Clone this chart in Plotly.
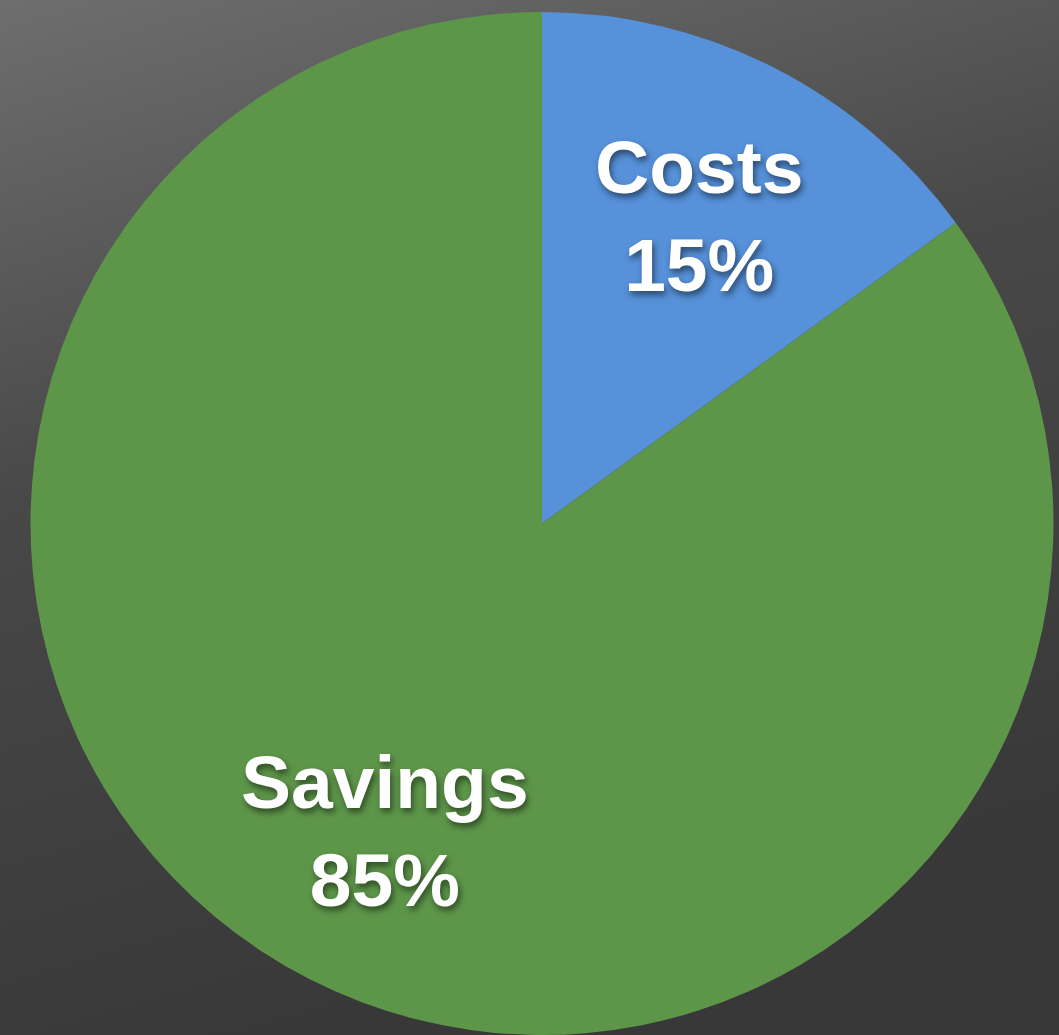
import base64
import math
import plotly.graph_objects as go

labels = ["Costs", "Savings"]
values = [15, 85]
colors = ["#5691D9", "#5D9649"]

W, H = 1059, 1035

svg = f'''<svg xmlns="http://www.w3.org/2000/svg" width="{W}" height="{H}" viewBox="0 0 {W} {H}">
<defs><linearGradient id="g" x1="0" y1="0" x2="0.3" y2="1">
<stop offset="0" stop-color="#6e6e6e"/>
<stop offset="0.45" stop-color="#484848"/>
<stop offset="1" stop-color="#383838"/>
</linearGradient></defs>
<rect width="{W}" height="{H}" fill="url(#g)"/></svg>'''
bg = "data:image/svg+xml;base64," + base64.b64encode(svg.encode()).decode()

top_px = 12
cx_px = 542
d_px = H - top_px
x0 = (cx_px - d_px / 2) / W
x1 = (cx_px + d_px / 2) / W
cy_px = top_px + d_px / 2
r_px = d_px / 2

fig = go.Figure(go.Pie(
    labels=labels,
    values=values,
    sort=False,
    direction="clockwise",
    rotation=0,
    marker=dict(colors=colors, line=dict(width=0)),
    textinfo="none",
    hoverinfo="label+percent",
    showlegend=False,
    domain=dict(x=[x0, x1], y=[0, 1 - top_px / H]),
))

# labels placed at the mid-angle of each slice
total = sum(values)
annotations = []
cum = 0
for lab, v in zip(labels, values):
    mid = (cum + v / 2) / total * 2 * math.pi
    cum += v
    rr = 0.675 * r_px
    px = cx_px + rr * math.sin(mid)
    py = cy_px - rr * math.cos(mid)
    annotations.append(dict(
        x=px / W, y=1 - py / H, xref="paper", yref="paper",
        text=f"{lab}<br>{round(v / total * 100)}%",
        showarrow=False, xanchor="center", yanchor="middle", align="center",
        font=dict(family="Liberation Sans, Arial, sans-serif", size=75, color="white",
                  weight="bold", shadow="2px 4px 6px rgba(0,0,0,0.5)"),
    ))

fig.update_layout(
    width=W, height=H,
    margin=dict(l=0, r=0, t=0, b=0),
    paper_bgcolor="#484848",
    plot_bgcolor="#484848",
    annotations=annotations,
    images=[dict(source=bg, xref="paper", yref="paper", x=0, y=1, sizex=1, sizey=1,
                 sizing="stretch", xanchor="left", yanchor="top", layer="below")],
)

fig.write_html("out.html", config={"displayModeBar": False},
               post_script="document.body.style.margin='0';document.body.style.background='#484848';")
